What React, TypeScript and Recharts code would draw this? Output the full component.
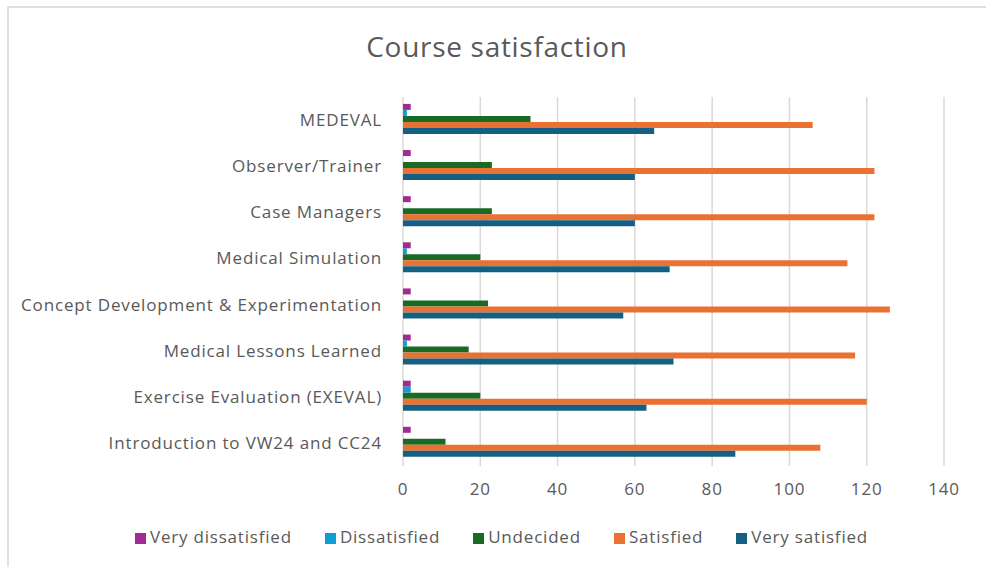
import React from "react";
import { Bar, BarChart, CartesianGrid, Legend, XAxis, YAxis } from "recharts";

const courses = [
  "MEDEVAL",
  "Observer/Trainer",
  "Case Managers",
  "Medical Simulation",
  "Concept Development & Experimentation",
  "Medical Lessons Learned",
  "Exercise Evaluation (EXEVAL)",
  "Introduction to VW24 and CC24",
];

const veryDissatisfied = [2, 2, 2, 2, 2, 2, 2, 2];
const dissatisfied = [1, 0, 0, 1, 0, 1, 2, 0];
const undecided = [33, 23, 23, 20, 22, 17, 20, 11];
const satisfied = [106, 122, 122, 115, 126, 117, 120, 108];
const verySatisfied = [65, 60, 60, 69, 57, 70, 63, 86];

const xTicks = [0, 20, 40, 60, 80, 100, 120, 140];

const series = [
  { key: "vd", name: "Very dissatisfied", color: "#a02b93", values: veryDissatisfied },
  { key: "d", name: "Dissatisfied", color: "#0f9ed5", values: dissatisfied },
  { key: "u", name: "Undecided", color: "#196b24", values: undecided },
  { key: "s", name: "Satisfied", color: "#e97132", values: satisfied },
  { key: "vs", name: "Very satisfied", color: "#156082", values: verySatisfied },
];

const data = courses.map((course, i) => {
  const row: Record<string, string | number> = { course };
  series.forEach((s) => (row[s.key] = s.values[i]));
  return row;
});

const order = series.map((s) => s.key);

const font = "'Open Sans', Lato, sans-serif";
const textColor = "#595959";
const tickStyle = { fill: textColor, fontSize: 17, fontFamily: font, letterSpacing: 0.85 };

export default function App() {
  return (
    <div style={{ position: "fixed", left: 0, top: 0, width: 986, height: 567, background: "#fff", fontFamily: font }}>
      <div
        style={{
          position: "absolute",
          left: 7,
          top: 6,
          width: 1000,
          height: 600,
          borderLeft: "2px solid #e3dfdb",
          borderTop: "2px solid #e3dfdb",
        }}
      />
      <div
        style={{
          position: "absolute",
          left: 0,
          top: 27,
          width: 994,
          textAlign: "center",
          fontSize: 28,
          letterSpacing: 0.7,
          color: textColor,
        }}
      >
        Course satisfaction
      </div>
      <div style={{ position: "absolute", left: 0, top: 0 }}>
        <BarChart
          width={986}
          height={567}
          data={data}
          layout="vertical"
          margin={{ top: 97, right: 42, left: 0, bottom: 0 }}
          barCategoryGap="15%"
          barGap={0}
        >
          <CartesianGrid horizontal={false} stroke="#dcd8d4" strokeWidth={1.5} />
          <XAxis
            type="number"
            domain={[0, 140]}
            ticks={xTicks}
            axisLine={false}
            tickLine={false}
            tickSize={0}
            tickMargin={17}
            height={40}
            tick={tickStyle}
          />
          <YAxis
            type="category"
            dataKey="course"
            width={403}
            axisLine={false}
            tickLine={false}
            tickSize={0}
            tickMargin={21}
            interval={0}
            tick={tickStyle}
          />
          <Legend
            verticalAlign="bottom"
            iconType="square"
            iconSize={11}
            height={61}
            itemSorter={(item: any) => order.indexOf(item.dataKey)}
            wrapperStyle={{
              top: 525,
              fontSize: 17,
              fontFamily: font,
              color: textColor,
              letterSpacing: 0.8,
              paddingLeft: 46,
            }}
            formatter={(value) => <span style={{ color: textColor, marginRight: 23 }}>{value}</span>}
          />
          {series.map((s) => (
            <Bar key={s.key} dataKey={s.key} name={s.name} fill={s.color} isAnimationActive={false} />
          ))}
        </BarChart>
      </div>
    </div>
  );
}
